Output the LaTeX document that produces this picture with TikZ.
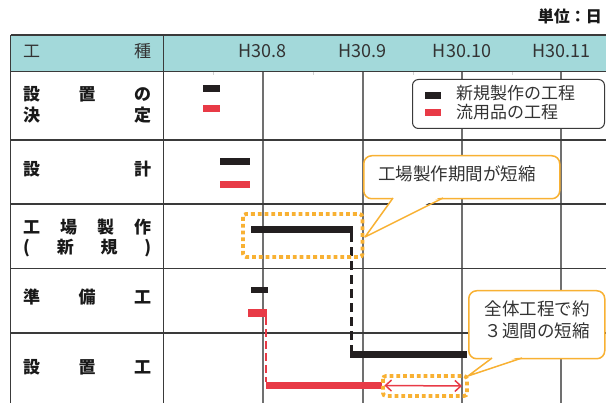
\documentclass[tikz,border=0pt]{standalone}
\usepackage{fontspec}
\setmainfont{Noto Sans CJK JP}
\usetikzlibrary{arrows.meta}
\definecolor{headteal}{HTML}{A3D9DA}
\definecolor{barblack}{HTML}{231F20}
\definecolor{barred}{HTML}{E83A46}
\definecolor{orng}{HTML}{F8B133}
\definecolor{gridgray}{HTML}{707070}
\definecolor{linedark}{HTML}{3A3A3A}
\definecolor{txtgray}{HTML}{333333}
\begin{document}
\begin{tikzpicture}[x=1pt,y=-1pt,
  cjkbox/.style={inner sep=0pt, text height=0.88em, text depth=0.12em},
  rowlbl/.style={cjkbox, anchor=west, text=black!90, font=\fontsize{17}{17}\selectfont\bfseries},
  headlbl/.style={cjkbox, anchor=west, text=txtgray, font=\fontsize{17}{17}\selectfont},
  mon/.style={cjkbox, text=txtgray, font=\fontsize{18}{18}\selectfont},
  bar/.style={inner sep=0pt, minimum height=7pt, anchor=west},
  blk/.style={bar, fill=barblack},
  rd/.style={bar, fill=barred},
  dotbox/.style={draw=orng, line width=3.8pt, dash pattern=on 3.8pt off 3pt, rounded corners=3pt},
  callout/.style={draw=orng, line width=1.5pt, fill=white, rounded corners=8pt},
  calltext/.style={cjkbox, text=txtgray, font=\fontsize{17.5}{17.5}\selectfont},
  legtext/.style={cjkbox, anchor=west, text=txtgray, font=\fontsize{17}{17}\selectfont},
  swatch/.style={inner sep=0pt, minimum width=16pt, minimum height=7pt, anchor=west}
]
\useasboundingbox (0,0) rectangle (606,403);
% unit
\node[cjkbox, anchor=east, font=\fontsize{16}{16}\selectfont\bfseries, text=black!90] (unit) at (602,19) {単位：日};
% header
\fill[headteal] (10.5,35) rectangle (606,71.5);
% faint ticks
\foreach \x in {213,313,413,512} \draw[gray!35, line width=0.8pt] (\x,71.5) -- (\x,75);
% month grid
\foreach \x in {263,362.5,462,561} \draw[gridgray, line width=2pt] (\x,71.5) -- (\x,403);
% row lines
\foreach \y in {35,71.5,140,204,268.5,333} \draw[linedark, line width=1.5pt] (10.5,\y) -- (606,\y);
\draw[linedark, line width=1.5pt] (10.5,35) -- (10.5,403);
\draw[linedark, line width=1pt] (163.5,35) -- (163.5,403);
% header labels
\node[headlbl] (hk) at (23,53.5) {\hbox to 128pt{工\hfil 種}};
\node[mon] (m8) at (262.5,53.5) {H30.8};
\node[mon] (m9) at (362.5,53.5) {H30.9};
\node[mon] (m10) at (462,53.5) {H30.10};
\node[mon] (m11) at (561.5,53.5) {H30.11};
% row labels
\node[rowlbl] (l1a) at (23,97) {\hbox to 128pt{設\hfil 置\hfil の}};
\node[rowlbl] (l1b) at (23,118) {\hbox to 128pt{決\hfil 定}};
\node[rowlbl] (l2) at (23,172) {\hbox to 128pt{設\hfil 計}};
\node[rowlbl] (l3a) at (23,230) {\hbox to 128pt{工\hfil 場\hfil 製\hfil 作}};
\node[rowlbl] (l3b) at (23,250) {\hbox to 128pt{(\hfil 新\hfil 規\hfil )}};
\node[rowlbl] (l4) at (23,300) {\hbox to 128pt{準\hfil 備\hfil 工}};
\node[rowlbl] (l5) at (23,370) {\hbox to 128pt{設\hfil 置\hfil 工}};
% legend
\node[draw=linedark, line width=1pt, rounded corners=6pt, fill=white, minimum width=192pt, minimum height=49pt, inner sep=0pt, anchor=north west] (legend) at (412,79) {};
\node[swatch, fill=barblack] (sw1) at (425,95.5) {};
\node[swatch, fill=barred] (sw2) at (425,113) {};
\node[legtext] (lt1) at (456,96) {新規製作の工程};
\node[legtext] (lt2) at (456,115) {流用品の工程};
% bars
\node[blk, minimum width=17pt] (b1) at (203,88.5) {};
\node[rd,  minimum width=17pt] (r1) at (203,108.5) {};
\node[blk, minimum width=30pt] (b2) at (220,162) {};
\node[rd,  minimum width=30pt] (r2) at (220,185) {};
\node[blk, minimum width=102pt] (b3) at (250.5,229.5) {};
\node[blk, minimum width=17pt, minimum height=6pt] (b4) at (250.5,290) {};
\node[rd,  minimum width=19pt, minimum height=8pt] (r4) at (248,313) {};
\node[blk, minimum width=117pt] (b5) at (350,354.5) {};
\node[rd,  minimum width=116pt] (r5) at (266,385.5) {};
% connectors
\draw[barblack, line width=2.6pt, dash pattern=on 9pt off 5pt] ([xshift=-1.3pt]b3.south east) -- ([xshift=-1.3pt]b3.south east |- b5.north);
\draw[barred, line width=2.6pt, dash pattern=on 8pt off 4pt] ([xshift=-1.3pt]r4.south east) -- ([xshift=-1.3pt]r4.south east |- r5.north);
\coordinate (ae) at (462,386);
\draw[barred, line width=1.5pt, {Straight Barb[length=6pt,width=11pt]}-{Straight Barb[length=6pt,width=11pt]}] ([xshift=2pt]r5.east) -- (ae);
% dotted boxes
\draw[dotbox] (243,214) rectangle (362.5,257);
\coordinate (d1) at (365,237);
\draw[dotbox] (383,376) rectangle (467,396);
\coordinate (d2) at (468,376);
% callout 1
\node[callout, minimum width=196pt, minimum height=43pt, inner sep=0pt, anchor=north west] (c1) at (363,155) {};
\fill[white] (394,196) -- (d1) -- (442,196) -- cycle;
\draw[orng, line width=1.5pt, line join=round] (393,198) -- (d1) -- (443,198);
\node[calltext] (c1t) at (457,177) {工場製作期間が短縮};
% callout 2
\node[callout, minimum width=136pt, minimum height=68pt, inner sep=0pt, anchor=north west] (c2) at (468,290) {};
\fill[white] (493,356) -- (d2) -- (521,356) -- cycle;
\draw[orng, line width=1.5pt, line join=round] (492,358) -- (d2) -- (522,358);
\node[calltext] (c2a) at (537,312) {全体工程で約};
\node[calltext] (c2b) at (537,333.5) {３週間の短縮};
\end{tikzpicture}
\end{document}
